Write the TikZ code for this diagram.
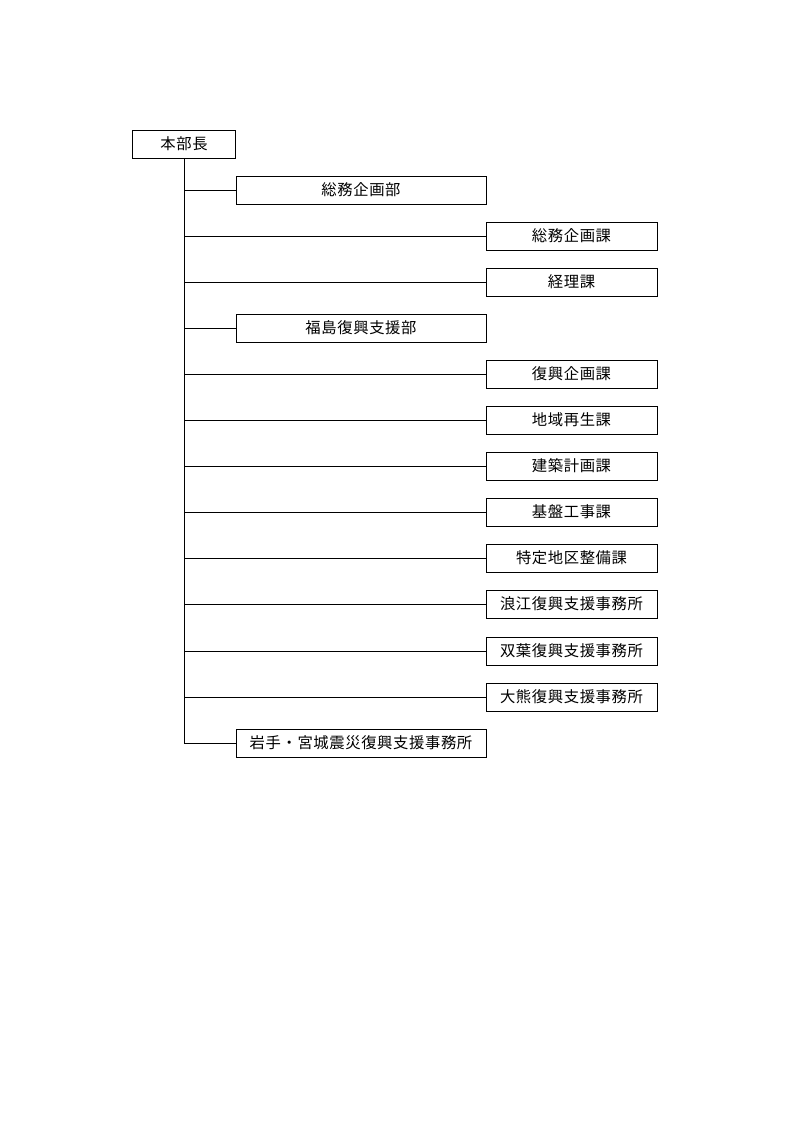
\documentclass[tikz,border=0pt]{standalone}
\usepackage{fontspec}
\setmainfont{Noto Sans CJK JP}[LetterSpace=4]
\usepackage{tikz}
\tikzstyle{unit}=[rectangle, draw, line width=0.6pt, inner sep=0pt, minimum height=21pt, font=\fontsize{11.5pt}{12pt}\selectfont]
\tikzstyle{head}=[unit, minimum width=77.25pt]
\tikzstyle{bu}=[unit, minimum width=187.5pt]
\tikzstyle{ka}=[unit, minimum width=128.25pt]
\newcommand{\unit}{\node[unit]}

\begin{document}
\begin{tikzpicture}[x=0.75pt, y=-0.75pt, line width=0.6pt]
	\useasboundingbox (0,0) rectangle (794,1123);
	%% the head
	\unit[head] (boss) at (184,144) {本部長};
	%% departments and sections
	\unit[bu] (bu1) at (361,190) {総務企画部};
	\unit[ka] (ka1) at (571.5,236) {総務企画課};
	\unit[ka] (ka2) at (571.5,282) {経理課};
	\unit[bu] (bu2) at (361,328) {福島復興支援部};
	\unit[ka] (ka3) at (571.5,374) {復興企画課};
	\unit[ka] (ka4) at (571.5,420) {地域再生課};
	\unit[ka] (ka5) at (571.5,466) {建築計画課};
	\unit[ka] (ka6) at (571.5,512) {基盤工事課};
	\unit[ka] (ka7) at (571.5,558) {特定地区整備課};
	\unit[ka] (ka8) at (571.5,604) {浪江復興支援事務所};
	\unit[ka] (ka9) at (571.5,651) {双葉復興支援事務所};
	\unit[ka] (ka10) at (571.5,697) {大熊復興支援事務所};
	\unit[bu] (bu3) at (361,743) {岩手・宮城震災復興支援事務所};
	%% for the edges
	\draw (boss.south) |- (bu3.west);
	\path[draw]
		(boss.south |- bu1.west) edge (bu1.west)
		(boss.south |- ka1.west) edge (ka1.west)
		(boss.south |- ka2.west) edge (ka2.west)
		(boss.south |- bu2.west) edge (bu2.west)
		(boss.south |- ka3.west) edge (ka3.west)
		(boss.south |- ka4.west) edge (ka4.west)
		(boss.south |- ka5.west) edge (ka5.west)
		(boss.south |- ka6.west) edge (ka6.west)
		(boss.south |- ka7.west) edge (ka7.west)
		(boss.south |- ka8.west) edge (ka8.west)
		(boss.south |- ka9.west) edge (ka9.west)
		(boss.south |- ka10.west) edge (ka10.west)
		;
\end{tikzpicture}
\end{document}
